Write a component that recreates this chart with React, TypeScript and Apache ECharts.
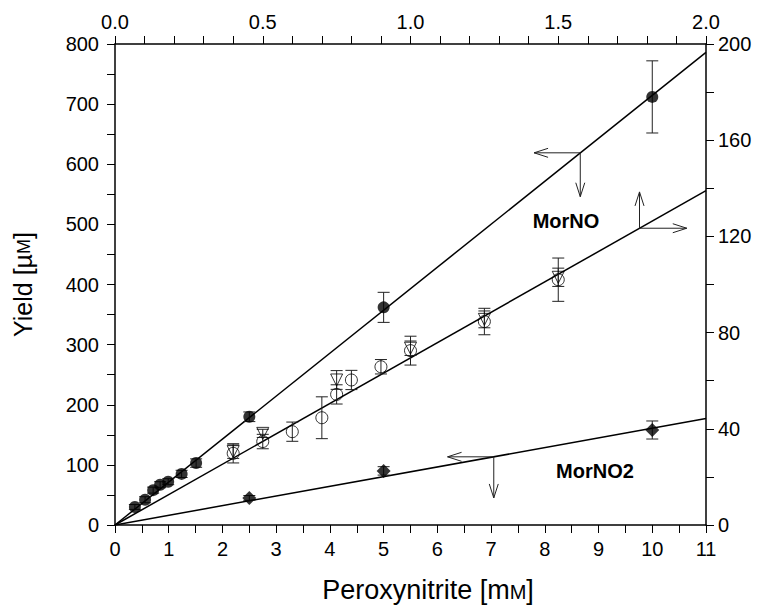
import React, { useEffect, useRef } from "react";
import * as echarts from "echarts";

// ---- Data ----
// MorNO, filled circles: bottom axis (mM) / left axis (µM)
const morNoX = [0.37, 0.56, 0.71, 0.84, 0.99, 1.24, 1.51, 2.5, 5, 10];
const morNoY = [30, 42, 58, 67, 72, 85, 103, 180, 362, 712];
const morNoErr = [4, 5, 5, 5, 5, 6, 7, 8, 25, 60];

// open circles: top axis / right axis
const circX = [0.4, 0.5, 0.6, 0.7, 0.75, 0.8, 0.9, 1.0, 1.25, 1.5];
const circY = [29.8, 34.7, 38.8, 44.6, 54.3, 60.3, 65.8, 72.5, 84.6, 102];
const circErr = [4, 3, 4, 8.7, 4, 4, 3, 6, 5.5, 9];

// open down-triangles: top axis / right axis
const triX = [0.4, 0.5, 0.75, 1.0, 1.25, 1.5];
const triY = [30.5, 38.1, 60.3, 73.5, 85.5, 103];
const triErr = [2.8, 1.7, 3.9, 3, 3.5, 3.8];

// MorNO2, filled diamonds: bottom axis / left axis
const dmX = [2.5, 5, 10];
const dmY = [45, 90, 158];
const dmErr = [4, 7, 15];

// fitted lines (end points)
const fitMorNo = [[0, 0], [11, 786]];
const fitOpen = [[0, 0], [2, 139]];
const fitMorNo2 = [[0, 0], [11, 177]];

// axis-pointing arrows [x0, y0, x1, y1]
const arrowsBL = [
  [8.66, 619, 7.8, 619],
  [8.66, 619, 8.66, 546],
  [7.05, 113.4, 6.19, 113.4],
  [7.05, 113.4, 7.05, 45],
];
const arrowsTR = [
  [1.775, 123.4, 1.775, 138.5],
  [1.775, 123.4, 1.935, 123.4],
];

const FONT = "Liberation Sans, Arial, Helvetica, sans-serif";

const zip3 = (a: number[], b: number[], c: number[]) => a.map((v, i) => [v, b[i], c[i]]);

const errRender = (params: any, api: any) => {
  const x = api.value(0), y = api.value(1), e = api.value(2);
  const t = api.coord([x, y + e]);
  const b = api.coord([x, y - e]);
  const hw = 6;
  const st = { stroke: "#222", lineWidth: 1 };
  return {
    type: "group",
    children: [
      { type: "line", shape: { x1: t[0], y1: t[1], x2: b[0], y2: b[1] }, style: st },
      { type: "line", shape: { x1: t[0] - hw, y1: t[1], x2: t[0] + hw, y2: t[1] }, style: st },
      { type: "line", shape: { x1: b[0] - hw, y1: b[1], x2: b[0] + hw, y2: b[1] }, style: st },
    ],
  };
};

const arrowRender = (params: any, api: any) => {
  const p0 = api.coord([api.value(0), api.value(1)]);
  const p1 = api.coord([api.value(2), api.value(3)]);
  const dx = p1[0] - p0[0], dy = p1[1] - p0[1];
  const len = Math.sqrt(dx * dx + dy * dy) || 1;
  const ux = dx / len, uy = dy / len;
  const hl = 14, hw = 4.5;
  const bx = p1[0] - ux * hl, by = p1[1] - uy * hl;
  const st = { stroke: "#222", lineWidth: 1 };
  return {
    type: "group",
    children: [
      { type: "line", shape: { x1: p0[0], y1: p0[1], x2: p1[0], y2: p1[1] }, style: st },
      { type: "line", shape: { x1: p1[0], y1: p1[1], x2: bx - uy * hw, y2: by + ux * hw }, style: st },
      { type: "line", shape: { x1: p1[0], y1: p1[1], x2: bx + uy * hw, y2: by - ux * hw }, style: st },
    ],
  };
};

const axisCommon = (fmt?: (v: number) => string, margin = 12) => ({
  type: "value" as const,
  splitLine: { show: false },
  axisLine: { show: true, onZero: false, lineStyle: { color: "#000", width: 1.5 } },
  axisTick: { show: true, inside: false, length: 8, lineStyle: { color: "#000", width: 1 } },
  minorTick: { show: true, length: 8, lineStyle: { color: "#000", width: 1 } },
  minorSplitLine: { show: false },
  axisLabel: {
    color: "#000",
    fontSize: 20,
    fontFamily: FONT,
    margin,
    formatter: fmt,
    showMinLabel: true,
    showMaxLabel: true,
  },
  nameMoveOverlap: false,
});

export default function App() {
  const ref = useRef<HTMLDivElement>(null);
  useEffect(() => {
    const chart = echarts.init(ref.current!, null, { renderer: "svg" });
    const option: any = {
      animation: false,
      backgroundColor: "#fff",
      grid: { left: 115, right: 62, top: 44, bottom: 85, containLabel: false, outerBoundsMode: "none" },
      xAxis: [
        {
          ...axisCommon(undefined, 14),
          position: "bottom",
          min: 0,
          max: 11,
          interval: 1,
          minorTick: { show: true, splitNumber: 2, length: 8, lineStyle: { color: "#000" } },
        },
        {
          ...axisCommon((v: number) => v.toFixed(1), 12),
          position: "top",
          min: 0,
          max: 2,
          interval: 0.5,
          minorTick: { show: true, splitNumber: 5, length: 8, lineStyle: { color: "#000" } },
        },
      ],
      yAxis: [
        {
          ...axisCommon(undefined, 16),
          position: "left",
          min: 0,
          max: 800,
          interval: 100,
          minorTick: { show: true, splitNumber: 2, length: 8, lineStyle: { color: "#000" } },
          name: "Yield [µ{s|M}]",
          nameLocation: "middle",
          nameGap: 80,
          nameRotate: 90,
          nameTextStyle: {
            fontSize: 25,
            color: "#000",
            fontFamily: FONT,
            rich: { s: { fontSize: 18, color: "#000", fontFamily: FONT, verticalAlign: "bottom", padding: [0, 0, 2, 0] } },
          },
        },
        {
          ...axisCommon(undefined, 12),
          position: "right",
          min: 0,
          max: 200,
          interval: 40,
          minorTick: { show: true, splitNumber: 2, length: 8, lineStyle: { color: "#000" } },
        },
      ],
      series: [
        {
          type: "line", xAxisIndex: 0, yAxisIndex: 0, data: fitMorNo, showSymbol: false, silent: true,
          lineStyle: { color: "#000", width: 1.5 }, z: 2,
        },
        {
          type: "line", xAxisIndex: 1, yAxisIndex: 1, data: fitOpen, showSymbol: false, silent: true,
          lineStyle: { color: "#000", width: 1.5 }, z: 2,
        },
        {
          type: "line", xAxisIndex: 0, yAxisIndex: 0, data: fitMorNo2, showSymbol: false, silent: true,
          lineStyle: { color: "#000", width: 1.5 }, z: 2,
        },
        { type: "custom", xAxisIndex: 0, yAxisIndex: 0, data: zip3(morNoX, morNoY, morNoErr), encode: { x: 0, y: 1 }, renderItem: errRender, silent: true, z: 3 },
        { type: "custom", xAxisIndex: 1, yAxisIndex: 1, data: zip3(circX, circY, circErr), encode: { x: 0, y: 1 }, renderItem: errRender, silent: true, z: 3 },
        { type: "custom", xAxisIndex: 1, yAxisIndex: 1, data: zip3(triX, triY, triErr), encode: { x: 0, y: 1 }, renderItem: errRender, silent: true, z: 3 },
        { type: "custom", xAxisIndex: 0, yAxisIndex: 0, data: zip3(dmX, dmY, dmErr), encode: { x: 0, y: 1 }, renderItem: errRender, silent: true, z: 3 },
        {
          type: "scatter", xAxisIndex: 0, yAxisIndex: 0, data: morNoX.map((x, i) => [x, morNoY[i]]),
          symbol: "circle", symbolSize: 12, itemStyle: { color: "#000" }, z: 4,
        },
        {
          type: "scatter", xAxisIndex: 1, yAxisIndex: 1, data: circX.map((x, i) => [x, circY[i]]),
          symbol: "circle", symbolSize: 12, itemStyle: { color: "transparent", borderColor: "#000", borderWidth: 1 }, z: 4,
        },
        {
          type: "scatter", xAxisIndex: 1, yAxisIndex: 1, data: triX.map((x, i) => [x, triY[i]]),
          symbol: "triangle", symbolRotate: 180, symbolSize: 12, itemStyle: { color: "transparent", borderColor: "#000", borderWidth: 1 }, z: 4,
        },
        {
          type: "scatter", xAxisIndex: 0, yAxisIndex: 0, data: dmX.map((x, i) => [x, dmY[i]]),
          symbol: "diamond", symbolSize: 14, itemStyle: { color: "#000" }, z: 4,
        },
        { type: "custom", xAxisIndex: 0, yAxisIndex: 0, data: arrowsBL, encode: { x: [0, 2], y: [1, 3] }, renderItem: arrowRender, silent: true, z: 5 },
        { type: "custom", xAxisIndex: 1, yAxisIndex: 1, data: arrowsTR, encode: { x: [0, 2], y: [1, 3] }, renderItem: arrowRender, silent: true, z: 5 },
      ],
      graphic: [
        {
          type: "text", x: 428, y: 590,
          style: {
            text: "Peroxynitrite [m{s|M}]",
            fill: "#000",
            fontSize: 27,
            fontFamily: FONT,
            align: "center",
            verticalAlign: "middle",
            rich: { s: { fontSize: 20, fill: "#000", fontFamily: FONT, verticalAlign: "bottom", padding: [0, 0, 2, 0] } },
          },
        },
        {
          type: "text", x: 566, y: 221,
          style: { text: "MorNO", fill: "#000", font: `bold 20px ${FONT}`, align: "center", verticalAlign: "middle" },
        },
        {
          type: "text", x: 595, y: 471,
          style: { text: "MorNO2", fill: "#000", font: `bold 20px ${FONT}`, align: "center", verticalAlign: "middle" },
        },
      ],
    };
    chart.setOption(option);
    return () => chart.dispose();
  }, []);
  return <div ref={ref} style={{ position: "absolute", left: 0, top: 0, width: 768, height: 610 }} />;
}
